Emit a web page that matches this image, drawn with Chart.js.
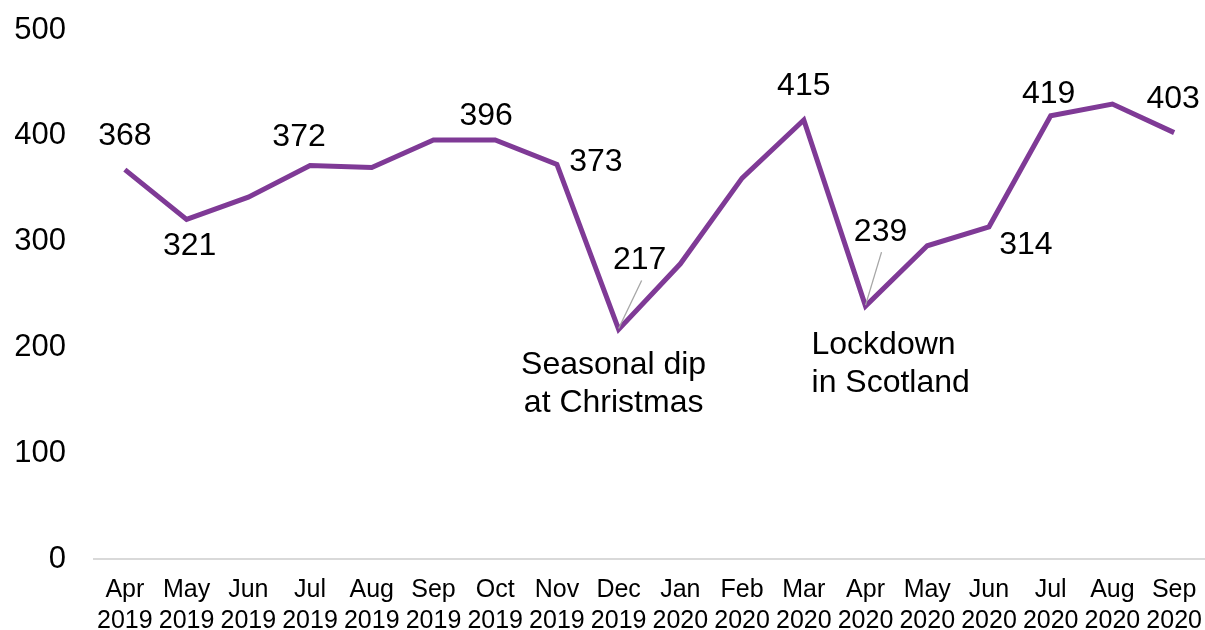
<!DOCTYPE html>
<html>
<head>
<meta charset="utf-8">
<title>Monthly figures</title>
<script src="https://cdn.jsdelivr.net/npm/chart.js@4"></script>
<style>
  html, body { margin: 0; padding: 0; background: #fff; }
  #wrap { width: 1205px; height: 630px; }
</style>
</head>
<body>
<div id="wrap"><canvas id="lineChart" width="1205" height="630"></canvas></div>
<script>
// months shown along the bottom, two lines each
const months = ['Apr', 'May', 'Jun', 'Jul', 'Aug', 'Sep', 'Oct', 'Nov', 'Dec',
                'Jan', 'Feb', 'Mar', 'Apr', 'May', 'Jun', 'Jul', 'Aug', 'Sep'];
const years = ['2019', '2019', '2019', '2019', '2019', '2019', '2019', '2019', '2019',
               '2020', '2020', '2020', '2020', '2020', '2020', '2020', '2020', '2020'];
const counts = [368, 321, 342, 372, 370, 396, 396, 373, 217, 279, 360, 415, 239, 296, 314, 419, 430, 403];
const yTicks = [0, 100, 200, 300, 400, 500];

// which points get a number, and where it sits relative to the point
const labelled = [0, 1, 3, 6, 7, 8, 11, 12, 14, 15, 17];
const labelOffsets = {
    0: [0, -33], 1: [3, 27], 3: [-11, -28], 6: [-9, -24], 7: [39, -2],
    8: [21, -69], 11: [0, -34], 12: [15, -74], 14: [37, 18], 15: [-2, -22], 17: [-1, -33]
};
// thin grey pointers for the two dips
const leaders = { 8: [23, -49], 12: [16, -54] };

const notes = [
    { index: 8, lines: ['Seasonal dip', 'at Christmas'], dx: -5, dy: 36, align: 'center' },
    { index: 12, lines: ['Lockdown', 'in Scotland'], dx: -54, dy: 39, align: 'left' }
];

const purple = '#7F3A96';
const FONT = 'Liberation Sans, Arial, sans-serif';

const pointLabels = {
    id: 'pointLabels',
    afterDatasetsDraw(chart) {
        const ctx = chart.ctx;
        const meta = chart.getDatasetMeta(0);
        ctx.save();

        ctx.strokeStyle = '#a6a6a6';
        ctx.lineWidth = 1.3;
        Object.keys(leaders).forEach(i => {
            const p = meta.data[i];
            const [dx, dy] = leaders[i];
            ctx.beginPath();
            ctx.moveTo(p.x, p.y - 1);
            ctx.lineTo(p.x + dx, p.y + dy);
            ctx.stroke();
        });

        ctx.fillStyle = '#000';
        ctx.font = `32px ${FONT}`;
        ctx.textAlign = 'center';
        ctx.textBaseline = 'middle';
        labelled.forEach(i => {
            const p = meta.data[i];
            const [dx, dy] = labelOffsets[i];
            ctx.fillText(String(counts[i]), p.x + dx, p.y + dy);
        });

        notes.forEach(n => {
            const p = meta.data[n.index];
            ctx.textAlign = n.align;
            n.lines.forEach((line, k) => {
                ctx.fillText(line, p.x + n.dx, p.y + n.dy + k * 38);
            });
        });
        ctx.restore();
    }
};

new Chart(document.getElementById('lineChart'), {
    type: 'line',
    data: {
        labels: months.map((m, i) => [m, years[i]]),
        datasets: [{
            data: counts,
            borderColor: purple,
            borderWidth: 5,
            pointRadius: 0,
            tension: 0,
            fill: false
        }]
    },
    options: {
        responsive: false,
        animation: false,
        layout: { padding: { top: 30, right: 0, bottom: 0, left: 0 } },
        plugins: {
            legend: { display: false },
            tooltip: { enabled: false }
        },
        scales: {
            x: {
                offset: true,
                // ticks are hidden, tickLength just spaces the labels
                grid: { display: false, drawTicks: true, tickLength: 16 },
                border: { display: true, color: '#d9d9d9', width: 2 },
                ticks: {
                    color: '#000',
                    font: { family: FONT, size: 25, lineHeight: 1.24 },
                    padding: 0,
                    maxRotation: 0,
                    autoSkip: false
                },
                afterFit(scale) { scale.height = 71; }
            },
            y: {
                min: 0,
                max: 500,
                afterBuildTicks(scale) { scale.ticks = yTicks.map(v => ({ value: v })); },
                grid: { display: false, drawTicks: true, tickLength: 28 },
                border: { display: false },
                ticks: {
                    color: '#000',
                    font: { family: FONT, size: 31 },
                    padding: 0
                },
                afterFit(scale) { scale.width = 94; }
            }
        }
    },
    plugins: [pointLabels]
});
</script>
</body>
</html>
